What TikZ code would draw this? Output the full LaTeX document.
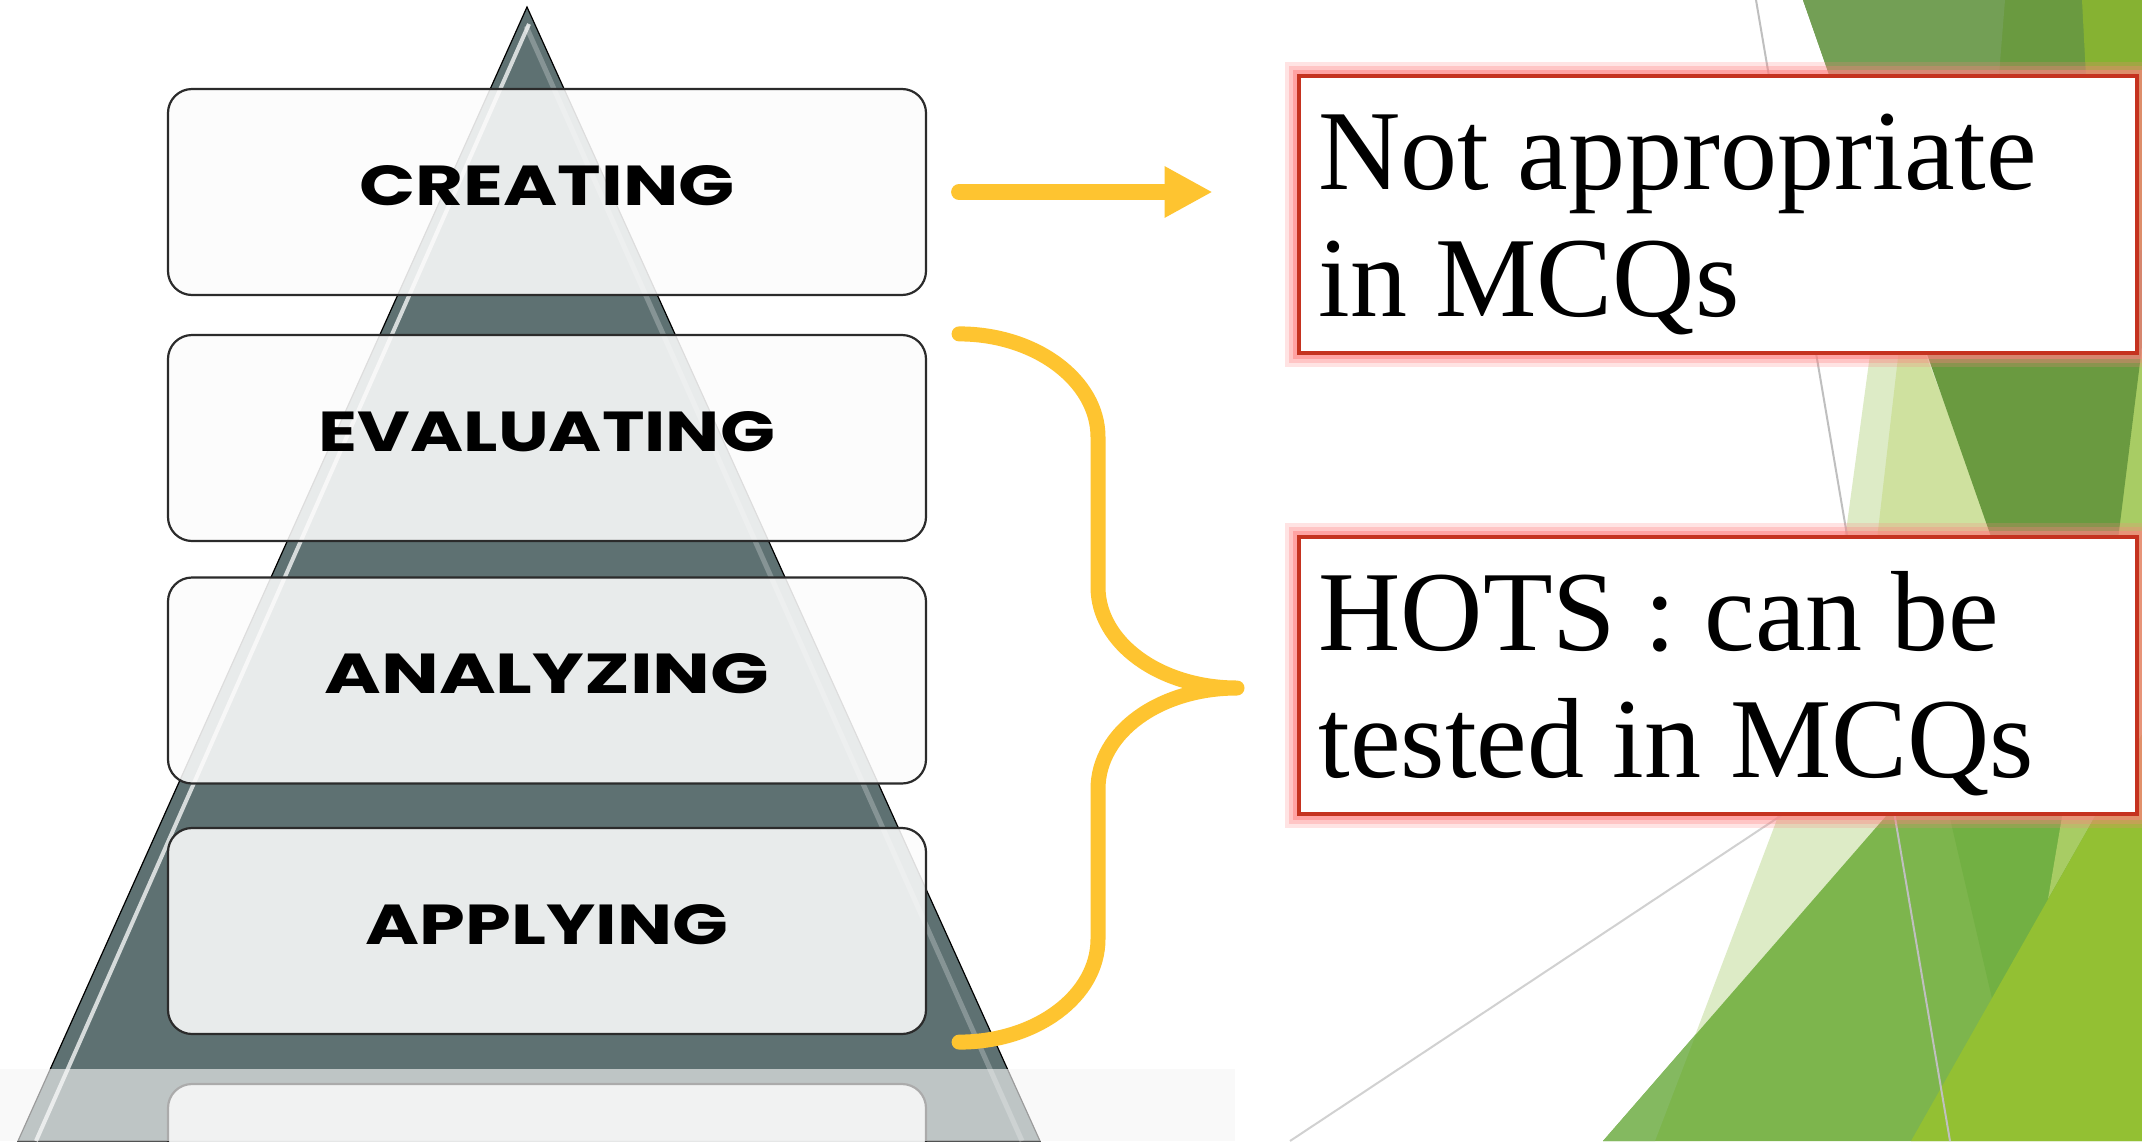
\documentclass[tikz,border=0pt]{standalone}
\usepackage{fontspec}
\setmainfont{Liberation Serif}
\newfontfamily\brushfont{Poppins}
\usetikzlibrary{arrows.meta}
\definecolor{pyr}{HTML}{5E7172}
\definecolor{boxline}{HTML}{2B2B2B}
\definecolor{boxfill}{HTML}{FCFCFC}
\definecolor{yel}{HTML}{FEC430}
\definecolor{boxred}{HTML}{C5321F}
\definecolor{glowred}{HTML}{FF8080}
\definecolor{gpale}{HTML}{DDEBC6}
\definecolor{glight}{HTML}{CFE19F}
\definecolor{gdark}{HTML}{6A9A40}
\definecolor{gtopmed}{HTML}{739F55}
\definecolor{gtopyg}{HTML}{86B232}
\definecolor{glyg}{HTML}{A8CC64}
\definecolor{gmed}{HTML}{7DB54D}
\definecolor{gmedtwo}{HTML}{72B043}
\definecolor{gyg}{HTML}{93C033}
\definecolor{gmedlight}{HTML}{84B960}
\newcommand{\lvltext}[2]{\resizebox{#1pt}{20pt}{\brushfont\bfseries #2}}
\begin{document}
\begin{tikzpicture}[x=0.5pt,y=-0.5pt,
  lvlbox/.style={draw=boxline, line width=1.1pt, fill=boxfill, fill opacity=0.88, text opacity=1,
    rounded corners=12pt, minimum width=379pt, minimum height=103pt, inner sep=0pt,
    text height=20pt, text depth=7pt},
  redbox/.style={draw=boxred, line width=2.4pt, fill=white, minimum width=419pt, minimum height=138.5pt, inner sep=0pt,
    preaction={draw=glowred, line width=14pt, opacity=0.22},
    preaction={draw=glowred, line width=10pt, opacity=0.3},
    preaction={draw=glowred, line width=6pt, opacity=0.5}},
  rtext/.style={inner sep=0pt, anchor=base west, font=\fontsize{57pt}{63pt}\selectfont},
  yarrow/.style={draw=yel, line width=8pt, line cap=round, -{Triangle[length=24pt,width=24pt]}},
  ybrace/.style={draw=yel, line width=7.5pt, line cap=round, line join=round},
  thinline/.style={draw=black!25, line width=1pt}
]
\useasboundingbox (0,0) rectangle (2142,1141);
\clip (0,0) rectangle (2142,1141);
\fill[white] (0,0) rectangle (2142,1141);

% --- green theme shapes ---
\fill[gpale] (1872,340) -- (1847,524) -- (1776,822) -- (1655,1141) -- (1700,1141) -- (1960,800) -- (1960,340) -- cycle;
\fill[glight] (1900,340) -- (1870,600) -- (2020,600) -- (1920,340) -- cycle;
\fill[gmed] (1900,800) -- (2100,800) -- (2142,1141) -- (1603,1141) -- cycle;
\fill[gmedlight] (1696,1034) -- (1655,1141) -- (1603,1141) -- cycle;
\fill[gmedtwo] (1949,814) -- (2094,814) -- (1994,1007) -- cycle;
\fill[glyg] (2150,300) -- (2048,899) -- (2161,700) -- (2161,300) -- cycle;
\fill[gdark] (1803,0) -- (2185,0) -- (2085,805) -- cycle;
\fill[gtopmed] (1803,0) -- (2005,0) -- (1985,250) -- (1890,250) -- cycle;
\fill[gtopyg] (2082,0) -- (2142,0) -- (2142,250) -- (2095,250) -- cycle;
\fill[gyg] (2161,700) -- (1911,1141) -- (2161,1141) -- cycle;
\draw[thinline] (1756,0) -- (1950,1141);
\draw[thinline, draw=black!18] (1290,1141) -- (1800,803);

% --- pyramid ---
\fill[pyr, draw=black, line width=0.6pt] (527,7) -- (1040,1141) -- (18,1141) -- cycle;
\draw[white, line width=2pt, opacity=0.75] (529,24) -- (36,1141);
\draw[white, line width=2.5pt, opacity=0.25] (526,26) -- (1022,1141);

% --- level boxes ---
\node[lvlbox] (creating) at (547,192) {\lvltext{187.5}{CREATING}};
\node[lvlbox] (evaluating) at (547,438) {\lvltext{228}{EVALUATING}};
\node[lvlbox] (analyzing) at (547,680.5) {\lvltext{222.5}{ANALYZING}};
\node[lvlbox] (applying) at (547,931) {\lvltext{181}{APPLYING}};
\node[lvlbox] (fifth) at (547,1187) {};

% --- faded bottom band ---
\fill[white!97!black, opacity=0.63] (0,1069) rectangle (1235,1141);

% --- note boxes ---
\node[redbox] (nb1) at (1718,214.5) {};
\node[redbox] (nb2) at (1718,675.5) {};
\node[rtext] (t1a) at (1318,189) {Not appropriate};
\node[rtext] (t1b) at (1318,316) {in MCQs};
\node[rtext] (t2a) at (1318,650) {HOTS : can be};
\node[rtext] (t2b) at (1318,777) {tested in MCQs};

% --- yellow connectors ---
\draw[yarrow] ([xshift=16pt]creating.east) -- ([xshift=-42pt]nb1.west |- creating.east);
\coordinate (bt) at ([xshift=16pt]evaluating.north east);
\coordinate (bb) at ([xshift=16pt,yshift=-3.5pt]applying.south east);
\coordinate (btip) at (1237,688);
\draw[ybrace] (bt) .. controls +(77,0) and +(0,-56) .. (1098,437) -- (1098,587)
  .. controls +(0,56) and +(-77,0) .. (btip)
  .. controls +(-77,0) and +(0,-57) .. (1098,789) -- (1098,939)
  .. controls +(0,57) and +(77,0) .. (bb);
\end{tikzpicture}
\end{document}
